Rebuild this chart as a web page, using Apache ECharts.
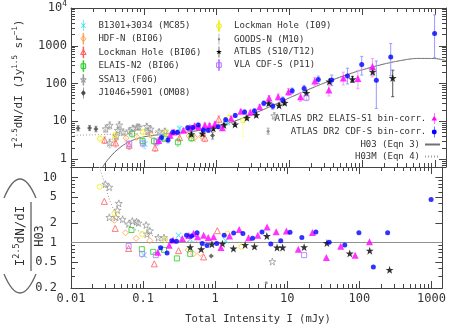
<!DOCTYPE html>
<html>
<head>
<meta charset="utf-8">
<script src="https://cdn.jsdelivr.net/npm/echarts@6.0.0/dist/echarts.min.js"></script>
<style>
  html, body { margin: 0; padding: 0; background: #fff; }
  #main { width: 449px; height: 327px; }
</style>
</head>
<body>
<div id="main"></div>
<script>
// each point: [flux mJy, I^2.5 dN/dI, err low, err high, ratio to H03 (null = off lower panel)]
var b1301 = [[0.103, 2.5, 1.9, 3.2, 0.64], [0.175, 3.66, 3.0, 4.4, 0.81], [0.31, 6.4, 5.4, 7.5, 1.29], [0.45, 6.1, 5.2, 7.1, 1.13], [1.40, 9.4, 8.0, 11, 1.07]];
var hdfn = [[0.040, 3.4, 2.5, 4.3, 2.2], [0.057, 3.6, 2.9, 4.4, 1.41], [0.080, 3.9, 3.2, 4.7, 1.16], [0.124, 4.4, 3.7, 5.1, 1.07], [0.42, 4.1, 3.3, 5.0, 0.77], [0.50, 3.7, 3.0, 4.5, 0.67], [0.62, 4.0, 3.2, 4.9, 0.68]];
var lockBi06 = [[0.029, 3.2, 2.6, 3.9, 4.3], [0.041, 2.7, 2.1, 3.4, 1.65], [0.063, 2.33, 1.8, 2.9, 0.81], [0.143, 2.0, 1.6, 2.5, 0.47], [0.31, 3.7, 3.0, 4.5, 0.75], [0.69, 3.6, 2.9, 4.4, 0.60], [1.07, 11.4, 9, 14, 1.52]];
var elaisN2 = [[0.069, 4.7, 3.8, 5.7, 1.56], [0.096, 3.0, 2.4, 3.7, 0.79], [0.138, 3.0, 2.4, 3.7, 0.72], [0.195, 3.5, 2.9, 4.2, 0.77], [0.294, 2.8, 2.2, 3.5, 0.57], [0.45, 3.6, 2.9, 4.4, 0.67]];
var ssa13 = [[0.030, 6.4, 5, 8, 7.9], [0.034, 7.9, 6.2, 9.6, 7.1], [0.034, 2.7, 2, 3.4, 2.44], [0.042, 4.1, 3.2, 5, 2.44], [0.044, 5.8, 4.6, 7, 3.15], [0.046, 8.0, 6.4, 9.8, 4.0], [0.052, 5.2, 4.2, 6.3, 2.28], [0.063, 5.6, 4.6, 6.7, 1.93], [0.071, 6.6, 5.5, 7.8, 2.14], [0.081, 7.1, 5.9, 8.3, 2.09], [0.086, 7.1, 5.9, 8.3, 2.0], [0.110, 7.4, 6.2, 8.7, 1.86], [0.113, 5.4, 4.5, 6.4, 1.35], [0.124, 6.3, 5.3, 7.4, 1.52], [0.162, 5.3, 4.5, 6.2, 1.19], [0.195, 5.5, 4.7, 6.4, 1.19], [6.2, 14.1, 11, 17, 0.51]];
var j1046 = [[0.0125, 6.6, 5.6, 7.7, null], [0.018, 6.7, 5.7, 7.8, null], [0.022, 6.3, 5.3, 7.4, null], [0.88, 4.25, 3.4, 5.2, 0.62]];
var lockI09 = [[0.025, 3.5, 2.8, 4.3, 7.2], [0.040, 4.3, 3.5, 5.2, 2.8], [0.097, 5.2, 4.3, 6.2, 1.35], [0.20, 5.1, 4.2, 6.0, 1.1], [1.49, 12.5, 10, 15, 1.37], [2.3, 10.6, 4, 13, 0.86]];
var goodsN = [[5.1, 5.5, 4.6, 6.6, 0.24]];
var atlbs = [[0.45, 4.6, 4.0, 5.2, 0.85], [0.64, 4.75, 4.1, 5.4, 0.79], [0.90, 6.5, 5.8, 7.3, 0.94], [1.26, 7.97, 7.1, 8.9, 0.96], [1.79, 8.29, 7.4, 9.2, 0.81], [2.6, 12.4, 11.0, 13.8, 0.92], [3.5, 14.8, 13.1, 16.5, 0.87], [5.2, 30.0, 27, 33, 1.26], [7.2, 26.4, 23.5, 29.5, 0.84], [8.6, 30.9, 27.5, 34.5, 0.84], [17.1, 56.2, 49, 64, 0.85], [35.4, 114, 98, 131, 0.98], [73.4, 130, 108, 155, 0.68], [139, 206, 170, 250, 0.75], [262, 140, 45, 226, 0.38]];
var vlaCdfs = [[0.063, 2.5, 2.0, 3.1, 0.88], [0.097, 2.6, 2.1, 3.2, 0.67], [0.15, 2.8, 2.3, 3.4, 0.64], [17.1, 42.3, 35, 50, 0.64]];
var atlasElais = [[0.16, 3.14, 2.6, 3.7, 0.71], [0.23, 4.30, 3.7, 4.9, 0.91], [0.26, 5.25, 4.6, 5.9, 1.09], [0.35, 5.85, 5.2, 6.5, 1.15], [0.43, 6.84, 6.1, 7.6, 1.28], [0.50, 7.66, 6.8, 8.5, 1.38], [0.57, 7.05, 6.3, 7.8, 1.23], [0.69, 8.07, 7.2, 9.0, 1.30], [0.80, 7.91, 7.0, 8.8, 1.20], [0.95, 8.71, 7.7, 9.7, 1.23], [1.20, 6.76, 5.9, 7.7, 0.84], [1.58, 12.0, 10.6, 13.4, 1.26], [2.15, 18.5, 16.2, 20.8, 1.58], [2.9, 17.3, 15.0, 19.7, 1.18], [3.9, 24.3, 21, 28, 1.30], [5.25, 41.5, 35, 48, 1.73], [7.0, 45.1, 37, 53, 1.47], [9.7, 61.2, 49, 74, 1.50], [14.2, 44.5, 34, 56, 0.79], [22.3, 116.5, 90, 145, 1.43], [34.8, 67.9, 47, 92, 0.59], [54.9, 140, 92, 200, 0.88], [87.1, 136, 73, 225, 0.64], [138, 282, 150, 460, 1.03]];
var atlasCdfs = [[0.175, 3.75, 3.0, 4.5, 0.83], [0.215, 3.23, 2.7, 3.8, 0.69], [0.25, 5.12, 4.4, 5.9, 1.07], [0.29, 5.14, 4.5, 5.8, 1.05], [0.40, 6.78, 6.0, 7.6, 1.29], [0.47, 6.88, 6.1, 7.7, 1.26], [0.56, 8.04, 7.2, 8.9, 1.41], [0.66, 5.91, 5.2, 6.7, 0.97], [0.77, 5.83, 5.1, 6.6, 0.90], [1.05, 7.21, 6.4, 8.1, 0.97], [1.33, 11.1, 9.8, 12.4, 1.29], [1.80, 14.4, 12.8, 16.1, 1.40], [2.42, 17.7, 15.6, 19.9, 1.38], [3.3, 18.9, 16.4, 21.5, 1.16], [4.45, 30.2, 26.0, 34.5, 1.45], [5.9, 25.2, 21.0, 29.5, 0.95], [8.1, 37.3, 31, 44, 1.07], [10.9, 64.8, 54, 76, 1.44], [15.9, 73.7, 58, 90, 1.19], [24.9, 129, 100, 158, 1.45], [38.1, 124, 88, 168, 1.01], [62.6, 159, 98, 255, 0.92], [98.3, 322, 168, 525, 1.41], [156, 122, 22, 396, 0.42], [246, 505, 161, 1148, 1.41], [985, 2112, 486, 6560, 4.6]];

// model curves
var h03Flux = [0.024, 0.0282, 0.0316, 0.0398, 0.0501, 0.0562, 0.0631, 0.075, 0.1, 0.178, 0.316, 0.562, 1, 1.78, 3.16, 5.62, 10, 17.8, 31.6, 56.2, 100, 178, 316, 562, 1000, 1413];
var h03Val = [0.414, 0.689, 0.937, 1.54, 2.22, 2.555, 2.88, 3.32, 3.89, 4.54, 4.96, 5.70, 7.23, 10.19, 15.67, 25.4, 41.9, 68.2, 107.4, 161.4, 230.7, 312.7, 398, 462.7, 459, 405.5];
var h03mFlux = [0.01, 0.02, 0.03, 0.05, 0.1, 0.2, 0.3, 0.5, 1, 1.78, 3.16, 5.62, 10, 17.8, 31.6, 56.2, 100, 178, 316, 562, 1000, 1413];
var h03mVal = [4.3, 4.4, 4.5, 4.6, 4.9, 5.2, 5.4, 5.9, 7.3, 10.2, 15.7, 25.4, 41.9, 68.2, 107.4, 161.4, 230.7, 312.7, 398, 462.7, 459, 405.5];
var h03mRatioFlux = [0.024, 0.025, 0.029, 0.034, 0.043, 0.061, 0.11, 0.167, 0.286, 0.5, 1, 1413];
var h03mRatio = [16, 14, 8.4, 4.7, 2.6, 1.8, 1.37, 1.2, 1.07, 1.03, 1.01, 1];

// axis ticks and labels
var xTicks = [0.01, 0.1, 1, 10, 100, 1000];
var xTickLabels = ['0.01', '0.1', '1', '10', '100', '1000'];
var yTopTicks = [1, 10, 100, 1000, 10000];
var yTopTickLabels = ['1', '10', '100', '1000', '10{sup|4}'];
var yBotTicks = [0.2, 0.5, 1, 2, 5, 10];
var yBotTickLabels = ['0.2', '0.5', '1', '2', '5', '10'];

var lg = function (v) { return Math.log10(v); };
var X_MIN = -2, X_MAX = 3.15;
var YT_MIN = lg(0.62), YT_MAX = 4;
var YB_MIN = lg(0.2), YB_MAX = lg(14.5);
var FONT = 'DejaVu Sans Mono';
var AX = '#444';
var TXT = '#333';

var SYM = {
  circle: 'M2.7,0A2.7,2.7,0,1,1,-2.7,0A2.7,2.7,0,1,1,2.7,0Z',
  triangle: 'M0,-3.1L3,2.2L-3,2.2Z',
  diamond: 'M0,-3.2L2.6,0L0,3.2L-2.6,0Z',
  square: 'M-2.5,-2.5L2.5,-2.5L2.5,2.5L-2.5,2.5Z',
  star: 'M0,-3.3L0.76,-1.05L3.14,-1.02L1.24,0.4L1.94,2.67L0,1.3L-1.94,2.67L-1.24,0.4L-3.14,-1.02L-0.76,-1.05Z',
  cross: 'M-2.6,-2.1L-2.1,-2.6L0,-0.5L2.1,-2.6L2.6,-2.1L0.5,0L2.6,2.1L2.1,2.6L0,0.5L-2.1,2.6L-2.6,2.1L-0.5,0Z',
  dot: 'M1.3,0A1.3,1.3,0,1,1,-1.3,0A1.3,1.3,0,1,1,1.3,0Z'
};
var BAR = 'M-0.3,-6L0.3,-6L0.3,6L-0.3,6Z';

var sets = [
  { name: 'B1301+3034 (MC85)', data: b1301, color: '#19e0f0', err: '#a0f0f8', sym: 'cross', open: false, size: 6 },
  { name: 'HDF-N (BI06)', data: hdfn, color: '#ffa050', err: '#ffd2a8', sym: 'diamond', open: true, size: 6 },
  { name: 'Lockman Hole (BI06)', data: lockBi06, color: '#ff5a5a', err: '#ffaaaa', sym: 'triangle', open: true, size: 6 },
  { name: 'ELAIS-N2 (BI06)', data: elaisN2, color: '#20d020', err: '#a0eaa0', sym: 'square', open: true, size: 5 },
  { name: 'SSA13 (F06)', data: ssa13, color: '#999999', err: '#c8c8c8', sym: 'star', open: true, size: 7 },
  { name: 'J1046+5901 (OM08)', data: j1046, color: '#4a4a4a', err: '#909090', sym: 'diamond', open: false, size: 5 },
  { name: 'Lockman Hole (I09)', data: lockI09, color: '#eeee10', err: '#ffffa0', sym: 'circle', open: true, size: 5 },
  { name: 'GOODS-N (M10)', data: goodsN, color: '#808080', err: '#aaaaaa', sym: 'dot', open: false, size: 3 },
  { name: 'ATLBS (S10/T12)', data: atlbs, color: '#000000', err: '#555555', sym: 'star', open: false, size: 8 },
  { name: 'VLA CDF-S (P11)', data: vlaCdfs, color: '#b070ff', err: '#dcc0ff', sym: 'square', open: true, size: 5 },
  { name: 'ATLAS DR2 ELAIS-S1 bin-corr.', data: atlasElais, color: '#ff00ff', err: '#ff99ff', sym: 'triangle', open: false, size: 7 },
  { name: 'ATLAS DR2 CDF-S bin-corr.', data: atlasCdfs, color: '#0000ff', err: '#9999ff', sym: 'circle', open: false, size: 5 }
];

function minorTicks(lo, hi, skip) {
  var out = [];
  for (var k = -3; k <= 4; k++) {
    for (var m = 2; m <= 9; m++) {
      var v = m * Math.pow(10, k);
      if (lg(v) > lo && lg(v) < hi && skip.indexOf(v) < 0) out.push(lg(v));
    }
  }
  return out;
}

function labelFor(ticks, labels) {
  return function (v) {
    for (var i = 0; i < ticks.length; i++) {
      if (Math.abs(lg(ticks[i]) - v) < 1e-6) return labels[i];
    }
    return '';
  };
}

var xMajor = xTicks.map(lg), xMinor = minorTicks(X_MIN, X_MAX, []);
var ytMajor = yTopTicks.map(lg), ytMinor = minorTicks(YT_MIN, YT_MAX, []);
var ybMajor = yBotTicks.map(lg), ybMinor = minorTicks(YB_MIN, YB_MAX, [2, 5]);

function makeAxes(dim, grid, min, max, major, minor, label) {
  var sides = dim === 'x' ? ['bottom', 'top'] : ['left', 'right'];
  var out = [];
  sides.forEach(function (side, s) {
    [true, false].forEach(function (isMajor) {
      var ax = {
        type: 'value', gridIndex: grid, position: side, min: min, max: max,
        splitLine: { show: false },
        axisLine: { show: isMajor, onZero: false, lineStyle: { color: AX, width: 1 } },
        axisTick: { show: true, inside: true, length: isMajor ? 7 : 4, customValues: isMajor ? major : minor, lineStyle: { color: AX, width: 1 } },
        axisLabel: { show: false }
      };
      if (s === 0 && isMajor && label) {
        ax.axisLabel = {
          show: true, customValues: major, formatter: label.fmt, margin: label.margin,
          fontFamily: FONT, fontSize: 12, color: TXT,
          rich: { sup: { fontFamily: FONT, fontSize: 8, color: TXT, verticalAlign: 'top', padding: [0, 0, 8, 0] } }
        };
      }
      out.push(ax);
    });
  });
  return out;
}

var xAxes = makeAxes('x', 0, X_MIN, X_MAX, xMajor, xMinor, null)
  .concat(makeAxes('x', 1, X_MIN, X_MAX, xMajor, xMinor, { fmt: labelFor(xTicks, xTickLabels), margin: 5 }));
var yAxes = makeAxes('y', 0, YT_MIN, YT_MAX, ytMajor, ytMinor, { fmt: labelFor(yTopTicks, yTopTickLabels), margin: 4 })
  .concat(makeAxes('y', 1, YB_MIN, YB_MAX, ybMajor, ybMinor, { fmt: labelFor(yBotTicks, yBotTickLabels), margin: 14 }));

var series = [];

// model curves
series.push({
  name: 'H03 (Eqn 3)', type: 'line', xAxisIndex: 0, yAxisIndex: 0, symbol: 'none', smooth: 0.3, z: 1, clip: true,
  lineStyle: { color: '#707070', width: 1 }, itemStyle: { color: '#707070' },
  data: h03Flux.map(function (f, i) { return [lg(f), lg(h03Val[i])]; })
});
series.push({
  name: 'H03M (Eqn 4)', type: 'line', xAxisIndex: 0, yAxisIndex: 0, symbol: 'none', smooth: 0.3, z: 1, clip: true,
  lineStyle: { color: '#a0a0a0', width: 1, type: [1, 2] }, itemStyle: { color: '#a0a0a0' },
  data: h03mFlux.map(function (f, i) { return [lg(f), lg(h03mVal[i])]; })
});
series.push({
  name: 'H03 (Eqn 3)', type: 'line', xAxisIndex: 4, yAxisIndex: 4, symbol: 'none', z: 1, data: [],
  markLine: { silent: true, symbol: 'none', label: { show: false }, lineStyle: { color: '#909090', width: 1, type: 'solid' }, data: [{ yAxis: 0 }] }
});
series.push({
  name: 'H03M (Eqn 4)', type: 'line', xAxisIndex: 4, yAxisIndex: 4, symbol: 'none', smooth: 0.3, z: 1, clip: true,
  lineStyle: { color: '#a0a0a0', width: 1, type: [1, 2] }, itemStyle: { color: '#a0a0a0' },
  data: h03mRatioFlux.map(function (f, i) { return [lg(f), lg(h03mRatio[i])]; })
});

sets.forEach(function (s, k) {
  var style = s.open
    ? { color: 'rgba(255,255,255,0)', borderColor: s.color, borderWidth: 1 }
    : { color: s.color, borderWidth: 0 };
  var errColor = s.err;
  series.push({
    name: s.name, type: 'custom', xAxisIndex: 0, yAxisIndex: 0, z: 2 + k * 0.01, clip: true, silent: true,
    itemStyle: { color: s.color },
    data: s.data.map(function (d) { return [lg(d[0]), lg(d[2]), lg(d[3])]; }),
    renderItem: function (params, api) {
      var lo = api.coord([api.value(0), api.value(1)]);
      var hi = api.coord([api.value(0), api.value(2)]);
      var st = { stroke: errColor, lineWidth: 1 };
      return {
        type: 'group', children: [
          { type: 'line', shape: { x1: lo[0], y1: lo[1], x2: hi[0], y2: hi[1] }, style: st },
          { type: 'line', shape: { x1: lo[0] - 1.5, y1: lo[1], x2: lo[0] + 1.5, y2: lo[1] }, style: st },
          { type: 'line', shape: { x1: hi[0] - 1.5, y1: hi[1], x2: hi[0] + 1.5, y2: hi[1] }, style: st }
        ]
      };
    }
  });
  series.push({
    name: s.name, type: 'scatter', xAxisIndex: 0, yAxisIndex: 0, z: 5 + k * 0.01, clip: true,
    symbol: 'path://' + SYM[s.sym], symbolSize: s.size, itemStyle: style,
    data: s.data.map(function (d) { return [lg(d[0]), lg(d[1])]; })
  });
  series.push({
    name: s.name, type: 'scatter', xAxisIndex: 4, yAxisIndex: 4, z: 5 + k * 0.01, clip: true,
    symbol: 'path://' + SYM[s.sym], symbolSize: s.size, itemStyle: style,
    data: s.data.filter(function (d) { return d[4] !== null; }).map(function (d) { return [lg(d[0]), lg(d[4])]; })
  });
});

function legendItems(list) {
  return list.map(function (s) {
    return {
      name: s.name, icon: 'path://' + SYM[s.sym] + BAR,
      itemStyle: s.open ? { color: 'rgba(255,255,255,0)', borderColor: s.color, borderWidth: 1 } : { color: s.color, borderWidth: 0 }
    };
  });
}
var legendText = { fontFamily: FONT, fontSize: 9, color: TXT, lineHeight: 11 };
var hiddenSym = { color: 'rgba(0,0,0,0)', borderColor: 'rgba(0,0,0,0)', borderWidth: 0 };

var option = {
  animation: false,
  backgroundColor: '#fff',
  textStyle: { fontFamily: FONT },
  grid: [
    { left: 71, right: 3, top: 8, height: 159 },
    { left: 71, right: 3, top: 167, height: 121 }
  ],
  xAxis: xAxes,
  yAxis: yAxes,
  legend: [
    { orient: 'vertical', padding: 0, left: 80, top: 20, itemWidth: 20, itemHeight: 11, itemGap: 1.7, selectedMode: false, textStyle: legendText, data: legendItems(sets.slice(0, 6)) },
    { orient: 'vertical', padding: 0, left: 216, top: 20, itemWidth: 20, itemHeight: 11, itemGap: 1.7, selectedMode: false, textStyle: legendText, data: legendItems(sets.slice(6, 10)) },
    { orient: 'vertical', padding: 0, right: 12, top: 113, align: 'right', itemWidth: 6, itemHeight: 11, itemGap: 2.5, selectedMode: false, textStyle: legendText, data: legendItems(sets.slice(10, 12)) },
    { orient: 'vertical', padding: 0, right: 8, top: 139, align: 'right', itemWidth: 15, itemHeight: 8, itemGap: 1, selectedMode: false, textStyle: legendText,
      data: [{ name: 'H03 (Eqn 3)', itemStyle: hiddenSym }, { name: 'H03M (Eqn 4)', itemStyle: hiddenSym }] }
  ],
  graphic: [
    { type: 'text', x: 258, y: 319, style: { text: 'Total Intensity I (mJy)', font: '10.5px "DejaVu Sans Mono"', fill: TXT, align: 'center', verticalAlign: 'middle' } },
    { type: 'text', x: 19, y: 84, rotation: Math.PI / 2,
      style: { text: 'I{s|2.5}dN/dI (Jy{s|1.5} sr{s|\u22121})', font: '11px "DejaVu Sans Mono"', fill: TXT, align: 'center', verticalAlign: 'middle',
        rich: { s: { font: '7.5px "DejaVu Sans Mono"', fill: TXT, verticalAlign: 'top', padding: [0, 0, 7, 0] } } } },
    { type: 'text', x: 21, y: 236, rotation: Math.PI / 2,
      style: { text: 'I{s|2.5}dN/dI', font: '12.5px "DejaVu Sans Mono"', fill: TXT, align: 'center', verticalAlign: 'middle',
        rich: { s: { font: '8.5px "DejaVu Sans Mono"', fill: TXT, verticalAlign: 'top', padding: [0, 0, 8, 0] } } } },
    { type: 'line', shape: { x1: 31, y1: 202, x2: 31, y2: 271 }, style: { stroke: TXT, lineWidth: 1 } },
    { type: 'text', x: 39.5, y: 236, rotation: Math.PI / 2, style: { text: 'H03', font: '12px "DejaVu Sans Mono"', fill: TXT, align: 'center', verticalAlign: 'middle' } },
    { type: 'bezierCurve', shape: { x1: 4, y1: 198, cpx1: 20, cpy1: 160, x2: 36, y2: 198 }, style: { stroke: '#666', lineWidth: 1.3, fill: null } },
    { type: 'bezierCurve', shape: { x1: 4, y1: 274, cpx1: 20, cpy1: 312, x2: 36, y2: 274 }, style: { stroke: '#666', lineWidth: 1.3, fill: null } }
  ],
  series: series
};

var chart = echarts.init(document.getElementById('main'), null, { renderer: 'canvas' });
chart.setOption(option);
</script>
</body>
</html>
